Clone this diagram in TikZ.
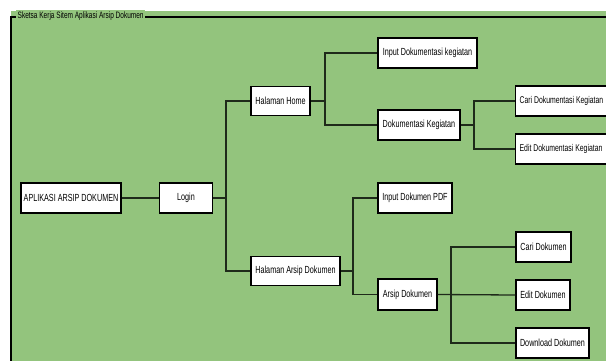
\documentclass[tikz,border=0pt]{standalone}
\usepackage{fontspec}
\setmainfont{Liberation Sans}[FakeStretch=0.7]
\definecolor{bggreen}{HTML}{93C47D}
\definecolor{linec}{HTML}{1E2A1A}
\newcommand{\leftfit}[1]{\makebox[92pt][l]{#1}}
\begin{document}
\begin{tikzpicture}[x=1pt,y=-1pt,
  box/.style={draw=black,fill=white,line width=1.3pt,minimum height=30pt,inner sep=2pt,font=\fontsize{10.3}{12}\selectfont},
  cutbox/.style={box,anchor=west,minimum width=100pt,inner sep=4pt,font=\fontsize{9.8}{12}\selectfont},
  conn/.style={draw=linec,line width=1.3pt}]
\useasboundingbox (0,0) rectangle (606,360);
\clip (0,0) rectangle (606,360);
\fill[white] (0,0) rectangle (606,360);
\fill[bggreen] (11,11) rectangle (610,364);
\draw[line width=1.8pt] (11,364) -- (11,17) -- (610,17);
\node[fill=bggreen,inner sep=1.5pt,anchor=west,font=\fontsize{9.3}{10}\selectfont] (title) at (16,16) {Sketsa Kerja Sitem Aplikasi Arsip Dokumen};
% nodes
\node[box,minimum width=100pt] (app) at (71,198) {APLIKASI ARSIP DOKUMEN};
\node[box,minimum width=53pt] (login) at (186,198) {Login};
\node[box,minimum width=59pt,minimum height=29pt] (home) at (280.5,101) {Halaman Home};
\node[box,minimum width=89pt,minimum height=29pt] (harsip) at (295.5,271) {Halaman Arsip Dokumen};
\node[box,minimum width=99pt] (inputkeg) at (427.5,53) {Input Dokumentasi kegiatan};
\node[box,minimum width=82pt] (dokkeg) at (419,125) {Dokumentasi Kegiatan};
\node[cutbox] (cari1) at (515,101) {\leftfit{Cari Dokumentasi Kegiatan}};
\node[cutbox] (edit1) at (515,149) {\leftfit{Edit Dokumentasi Kegiatan}};
\node[box,minimum width=74pt] (inputpdf) at (415,198) {Input Dokumen PDF};
\node[box,minimum width=59pt,minimum height=31pt] (arsip) at (407.5,294.5) {Arsip Dokumen};
\node[box,minimum width=55pt] (cari2) at (543.5,247) {Cari Dokumen};
\node[box,minimum width=54pt] (edit2) at (543,295) {Edit Dokumen};
\node[box,minimum width=73pt] (download) at (552.5,343) {Download Dokumen};
% junctions
\coordinate (j1) at (226,198);
\coordinate (j2) at (325,101);
\coordinate (j3) at (474,125);
\coordinate (j4) at (353,271);
\coordinate (j5) at (451,295);
% connectors
\draw[conn] (app.east) -- (login.west);
\draw[conn] (login.east) -- (j1);
\draw[conn] (j1) |- (home.west);
\draw[conn] (j1) |- (harsip.west);
\draw[conn] (home.east) -- (j2);
\draw[conn] (j2) |- (inputkeg.west);
\draw[conn] (j2) |- (dokkeg.west);
\draw[conn] (dokkeg.east) -- (j3);
\draw[conn] (j3) |- (cari1.west);
\draw[conn] (j3) |- (edit1.west);
\draw[conn] (harsip.east) -- (j4);
\draw[conn] (j4) |- (inputpdf.west);
\draw[conn] (j4) |- (arsip.west);
\draw[conn] (arsip.east) -- (edit2.west);
\draw[conn] (j5) |- (cari2.west);
\draw[conn] (j5) |- (download.west);
\end{tikzpicture}
\end{document}
